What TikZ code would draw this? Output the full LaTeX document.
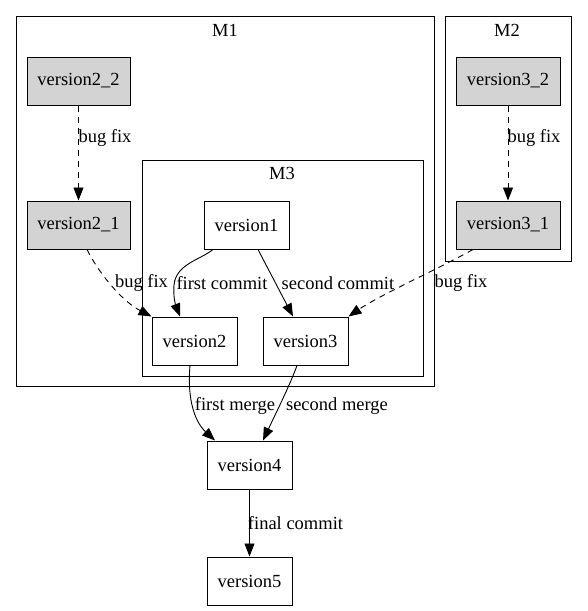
\documentclass[tikz,border=0pt]{standalone}
\usepackage{fontspec}
\setmainfont{Liberation Serif}
\usetikzlibrary{arrows.meta}
\begin{document}
\begin{tikzpicture}[x=1pt,y=-1pt,
  font=\fontsize{18.5}{20}\selectfont,
  box/.style={draw, line width=1pt, rectangle, minimum height=48pt, inner sep=0pt},
  wide/.style={box, minimum width=103pt},
  narrow/.style={box, minimum width=85pt},
  gray/.style={fill={rgb,255:red,211;green,211;blue,211}},
  cluster/.style={draw, line width=1pt},
  edge/.style={line width=0.9pt, -{Triangle[length=13pt,width=10pt]}},
  dashedge/.style={edge, dash pattern=on 6pt off 5pt},
  lbl/.style={inner sep=0pt, anchor=center}]
\useasboundingbox (0,0) rectangle (587,611);

% clusters
\draw[cluster] (16,16) rectangle (434,386);
\draw[cluster] (445,16) rectangle (571,261);
\draw[cluster] (142,160) rectangle (423,376);
\node[lbl] (m1) at (225,30) {M1};
\node[lbl] (m2) at (507,30) {M2};
\node[lbl] (m3) at (282,173) {M3};

% nodes
\node[wide, gray] (v22) at (78.5,81) {version2\_2};
\node[wide, gray] (v21) at (78.5,225) {version2\_1};
\node[wide, gray, minimum width=104pt] (v32) at (508,81) {version3\_2};
\node[wide, gray, minimum width=104pt] (v31) at (508,225) {version3\_1};
\node[narrow] (v1) at (246.5,225) {version1};
\node[narrow] (v2) at (194.5,341) {version2};
\node[narrow] (v3) at (305.5,341) {version3};
\node[narrow] (v4) at (249.5,465) {version4};
\node[narrow] (v5) at (249.5,581) {version5};

% edges
\draw[dashedge] (v22.south) -- (v21.north);
\draw[dashedge] (v32.south) -- (v31.north);
\draw[dashedge] ([xshift=8.5pt]v21.south)
  .. controls (97,270) and (120,300) .. (v2.north west);
\draw[edge] ([xshift=-33.5pt]v1.south)
  .. controls (200,260) and (176,264) .. (174,285)
  .. controls (173,298) and (176,306) .. ([xshift=-14.5pt]v2.north);
\draw[edge] ([xshift=11.5pt]v1.south) -- ([xshift=-12.5pt]v3.north);
\draw[dashedge] ([xshift=-35pt]v31.south)
  .. controls (440,268) and (380,295) .. (v3.north east);
\draw[edge] ([xshift=-4.5pt]v2.south)
  .. controls (187,400) and (195,422) .. ([xshift=-34.5pt]v4.north);
\draw[edge] ([xshift=-8.5pt]v3.south)
  .. controls (290,385) and (275,415) .. ([xshift=13.5pt]v4.north);
\draw[edge] (v4.south) -- (v5.north);

% edge labels
\node[lbl] (l1) at (105,138) {bug fix};
\node[lbl] (l2) at (534,138) {bug fix};
\node[lbl] (l3) at (141.5,283) {bug fix};
\node[lbl] (l4) at (222,283) {first commit};
\node[lbl] (l5) at (338,283) {second commit};
\node[lbl] (l6) at (461,283) {bug fix};
\node[lbl] (l7) at (235,406) {first merge};
\node[lbl] (l8) at (337,406) {second merge};
\node[lbl] (l9) at (295.5,523) {final commit};
\end{tikzpicture}
\end{document}
